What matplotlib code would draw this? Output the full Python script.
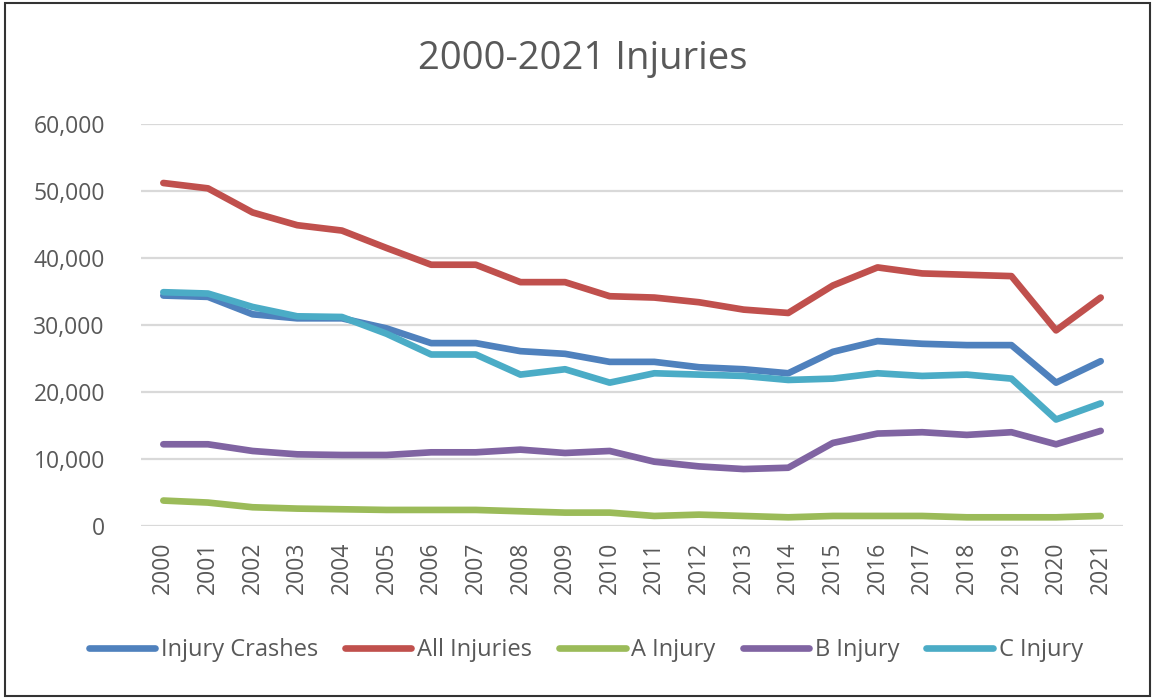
"""2000-2021 injuries line chart."""
import matplotlib

matplotlib.use("Agg")
from matplotlib import pyplot as plt
from matplotlib.patches import Rectangle
from matplotlib.ticker import FuncFormatter

plt.rcParams["font.family"] = ["Open Sans", "DejaVu Sans"]

years = [str(y) for y in range(2000, 2022)]

injury_crashes = [34400, 34200, 31600, 31000, 31000, 29500, 27300, 27300, 26100, 25700, 24500,
                  24500, 23700, 23400, 22800, 26000, 27600, 27200, 27000, 27000, 21400, 24600]
all_injuries = [51200, 50400, 46800, 44900, 44100, 41500, 39000, 39000, 36400, 36400, 34300,
                34100, 33400, 32300, 31800, 35900, 38600, 37700, 37500, 37300, 29200, 34100]
a_injury = [3800, 3500, 2800, 2600, 2500, 2400, 2400, 2400, 2200, 2000, 2000,
            1500, 1700, 1500, 1300, 1500, 1500, 1500, 1300, 1300, 1300, 1500]
b_injury = [12200, 12200, 11200, 10700, 10600, 10600, 11000, 11000, 11400, 10900, 11200,
            9600, 8900, 8500, 8700, 12400, 13800, 14000, 13600, 14000, 12200, 14200]
c_injury = [34900, 34700, 32700, 31300, 31200, 28700, 25600, 25600, 22600, 23400, 21400,
            22800, 22600, 22400, 21800, 22000, 22800, 22400, 22600, 22000, 15900, 18300]

series = [
    ("Injury Crashes", injury_crashes, "#4F81BD"),
    ("All Injuries", all_injuries, "#C0504D"),
    ("A Injury", a_injury, "#9BBB59"),
    ("B Injury", b_injury, "#8064A2"),
    ("C Injury", c_injury, "#4BACC6"),
]

text_color = "#595959"

fig = plt.figure(figsize=(11.53, 6.98), dpi=100)
ax = fig.add_axes([0.1223, 0.2464, 0.8517, 0.5759])

x = list(range(len(years)))
for label, values, color in series:
    ax.plot(x, values, label=label, color=color, linewidth=4.8,
            solid_capstyle="round", solid_joinstyle="round")

ax.set_xlim(-0.5, len(years) - 0.5)
ax.set_ylim(0, 60000)
ax.set_yticks(range(0, 60001, 10000))
ax.yaxis.set_major_formatter(FuncFormatter(lambda v, p: f"{int(v):,}"))
ax.set_xticks(x)
ax.set_xticklabels(years, rotation=90)
ax.tick_params(axis="both", length=0, labelsize=16.5, labelcolor=text_color)
ax.tick_params(axis="y", pad=26)
ax.tick_params(axis="x", pad=11)
ax.grid(axis="y", color="#D9D9D9", linewidth=1.6)
ax.set_axisbelow(True)
for spine in ax.spines.values():
    spine.set_visible(False)

fig.text(0.505, 0.901, "2000-2021 Injuries", ha="center", va="baseline",
         fontsize=27.5, color=text_color)

fig.legend(loc="center", bbox_to_anchor=(0.508, 0.069), ncol=5, frameon=False,
           fontsize=17, labelcolor=text_color, handlelength=2.8,
           handletextpad=0.25, columnspacing=1.15)

fig.add_artist(Rectangle((0.004, 0.003), 0.993, 0.992, transform=fig.transFigure,
                         fill=False, edgecolor="#333333", linewidth=1.5))

fig.savefig("out.png", dpi=100, facecolor="white")
